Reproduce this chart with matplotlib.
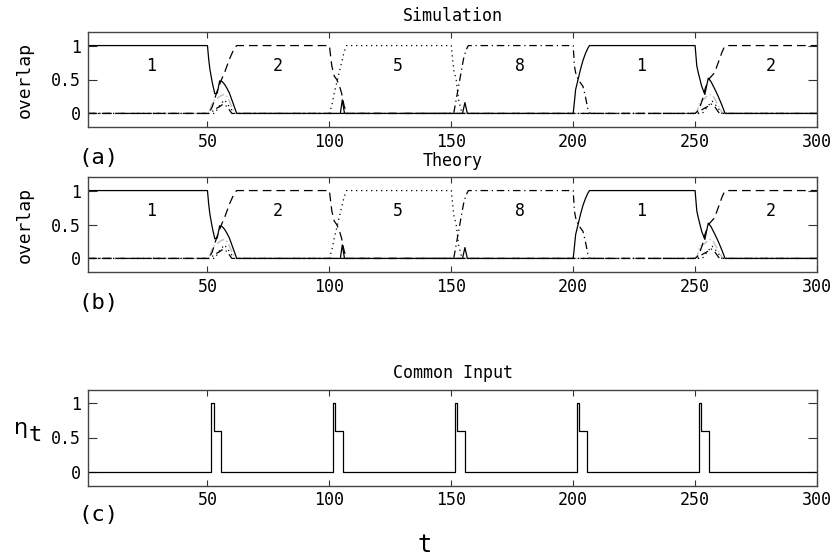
import numpy as np
import matplotlib
matplotlib.use("Agg")
import matplotlib.pyplot as plt

# ---------------- data ----------------
# pattern 1 overlap (solid)
p1_t = [1, 50, 50.5, 51, 52, 53, 54, 55, 56, 57, 58, 59, 60, 61, 62,
        104.5, 105.3, 106.2, 154.6, 155.6, 156.6,
        200, 200.3, 201, 202, 203, 204, 205, 206, 206.7,
        250, 250.7, 251.3, 252.7, 254, 255.4, 256.5, 258.2, 259.5, 260.9, 262.3, 300]
p1_m = [1, 1, 0.8, 0.65, 0.45, 0.29, 0.30, 0.48, 0.47, 0.43, 0.37, 0.30, 0.20, 0.10, 0,
        0, 0.2, 0, 0, 0.16, 0,
        0, 0.1, 0.35, 0.5, 0.65, 0.78, 0.88, 0.96, 1,
        1, 0.7, 0.6, 0.4, 0.28, 0.52, 0.47, 0.35, 0.25, 0.13, 0, 0]

# pattern 2 overlap (dashed)
p2_t = [1, 50, 51, 52, 53, 54, 55, 56, 57, 58, 59, 60, 61, 62,
        100, 101, 102, 103, 104, 105, 106, 107,
        250, 251, 252, 253, 254, 255, 256, 257, 258, 259, 260, 261, 262, 263, 300]
p2_m = [0, 0, 0.03, 0.1, 0.22, 0.33, 0.43, 0.52, 0.6, 0.7, 0.8, 0.88, 0.96, 1,
        1, 0.7, 0.55, 0.5, 0.42, 0.3, 0.12, 0,
        0, 0.03, 0.1, 0.2, 0.35, 0.45, 0.52, 0.56, 0.6, 0.7, 0.8, 0.9, 0.98, 1, 1]

# pattern 5 overlap (dotted)
p5_t = [1, 53, 55, 57, 59, 61, 100, 101, 102, 103, 104, 105, 106, 107,
        150, 151, 152, 153, 154.4, 253, 255, 257, 259, 261, 300]
p5_m = [0, 0, 0.12, 0.2, 0.1, 0, 0, 0.12, 0.3, 0.45, 0.6, 0.75, 0.9, 1,
        1, 0.64, 0.5, 0.2, 0, 0, 0.1, 0.18, 0.1, 0, 0]

# pattern 8 overlap (dash-dot)
p8_t = [1, 51, 53, 55, 56.5, 58, 60, 151, 152, 153, 154, 155, 156, 157,
        200, 200.5, 201, 202, 203, 204, 205, 206, 207,
        251, 253, 255, 256.5, 258, 260, 300]
p8_m = [0, 0, 0.06, 0.1, 0.14, 0.1, 0, 0, 0.2, 0.4, 0.6, 0.8, 0.93, 1,
        1, 0.7, 0.6, 0.5, 0.45, 0.4, 0.25, 0.07, 0,
        0, 0.06, 0.1, 0.14, 0.1, 0, 0]

# other patterns (light grey)
po_t = [1, 50, 51, 52, 53, 54, 55, 56, 57, 58, 59, 60, 61, 62,
        250, 251, 252, 253, 254, 255, 256, 257, 258, 259, 260, 261, 262, 300]
po_m = [0, 0, 0.05, 0.15, 0.2, 0.22, 0.25, 0.27, 0.28, 0.25, 0.18, 0.1, 0.03, 0,
        0, 0.05, 0.18, 0.2, 0.22, 0.26, 0.28, 0.27, 0.22, 0.15, 0.08, 0.02, 0, 0]

# segment labels
seg_labels = ["1", "2", "5", "8", "1", "2"]
seg_label_t = [27, 79, 128, 178, 228, 281]
seg_label_y = 0.7

# common input eta_t
t_steps = np.arange(1, 301)
pulse_onsets = [52, 102, 152, 202, 252]
pulse_shape = [1.0, 0.6, 0.6, 0.6]

xticks = [50, 100, 150, 200, 250, 300]
yticks = [0, 0.5, 1]
ytick_labels = ["0", "0.5", "1"]

# ---------------- figure ----------------
FONT = ["DejaVu Sans Mono"]
plt.rcParams["font.family"] = FONT

W, H = 838, 560
fig = plt.figure(figsize=(W / 100, H / 100), dpi=100)

left = 88 / W
width = (817 - 88) / W
boxes = [
    (1 - 127 / H, 95 / H),
    (1 - 272 / H, 95 / H),
    (1 - 485.5 / H, 96 / H),
]

def style_axes(ax):
    ax.set_xlim(1, 300)
    ax.set_ylim(-0.2, 1.2)
    ax.set_xticks(xticks)
    ax.set_yticks(yticks)
    ax.set_yticklabels(ytick_labels)
    ax.tick_params(axis="both", direction="in", top=True, right=True,
                   labelsize=12, color="#333333", width=0.8)
    ax.tick_params(axis="x", length=4.5, pad=4)
    ax.tick_params(axis="y", length=6.5, pad=5)
    for s in ax.spines.values():
        s.set_color("#444444")
        s.set_linewidth(1.0)

lw = 0.9
for i, title in enumerate(["Simulation", "Theory"]):
    b, h = boxes[i]
    ax = fig.add_axes([left, b, width, h])
    ax.plot(po_t, po_m, color="#c0c0c0", lw=1.0, ls=(0, (6, 2, 1, 2)))
    ax.plot(p1_t, p1_m, color="black", lw=lw, ls="-")
    ax.plot(p2_t, p2_m, color="black", lw=lw, ls=(0, (7, 4)))
    ax.plot(p5_t, p5_m, color="black", lw=lw, ls=(0, (1, 3)))
    ax.plot(p8_t, p8_m, color="black", lw=lw, ls=(0, (6, 3, 1, 3)))
    for lab, tt in zip(seg_labels, seg_label_t):
        ax.text(tt, seg_label_y, lab, ha="center", va="center", fontsize=12)
    style_axes(ax)
    ax.set_title(title, fontsize=12, pad=8)
    ax.set_ylabel("overlap", fontsize=13)
    ax.yaxis.set_label_coords((34 - 88) / (817 - 88), 0.5)
    fig.text(98 / W, 1 - (158 + 145 * i) / H, "(" + "ab"[i] + ")",
             ha="center", va="center", fontsize=16)

# panel c
eta = np.zeros(len(t_steps))
for t0 in pulse_onsets:
    for k, v in enumerate(pulse_shape):
        eta[t0 - 1 + k] = v

b, h = boxes[2]
axc = fig.add_axes([left, b, width, h])
axc.plot(t_steps, eta, color="black", lw=lw, drawstyle="steps-mid")
style_axes(axc)
axc.set_title("Common Input", fontsize=12, pad=8)
fig.text(21 / W, 1 - 428 / H, "η", ha="center", va="center", fontsize=16,
         family="DejaVu Sans")
fig.text(35 / W, 1 - 435 / H, "t", ha="center", va="center", fontsize=16)
fig.text(98 / W, 1 - 515 / H, "(c)", ha="center", va="center", fontsize=16)
fig.text(425 / W, 1 - 545 / H, "t", ha="center", va="center", fontsize=17)

fig.savefig("out.png", dpi=100)
